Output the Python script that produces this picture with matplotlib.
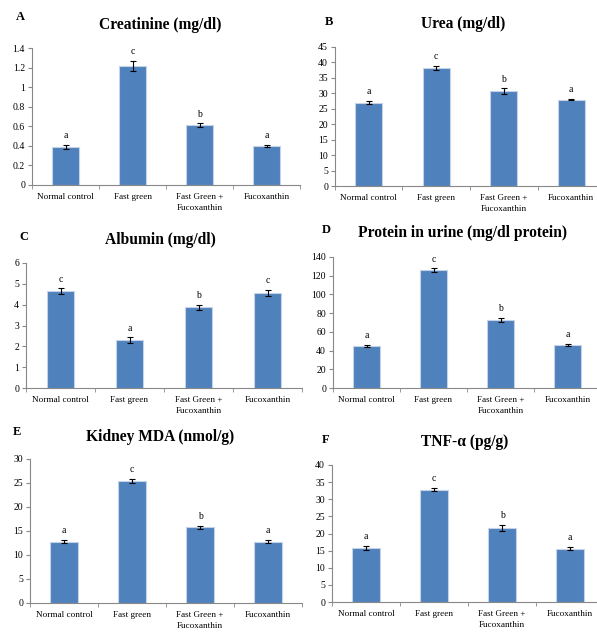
import matplotlib
matplotlib.use('Agg')

import numpy as np
import matplotlib.pyplot as plt

plt.rcParams['font.family'] = ['Liberation Serif', 'DejaVu Serif']

groups = ['Normal control', 'Fast green', 'Fast Green +\nFucoxanthin', 'Fucoxanthin']

creatinine = [0.39, 1.22, 0.61, 0.40]
creatinine_err = [0.02, 0.05, 0.02, 0.01]
urea = [27.0, 38.2, 30.7, 27.9]
urea_err = [0.4, 0.8, 0.9, 0.2]
albumin = [4.65, 2.30, 3.88, 4.57]
albumin_err = [0.15, 0.15, 0.12, 0.15]
protein = [45, 126, 73, 46]
protein_err = [1, 2, 2, 1]
mda = [12.8, 25.5, 15.8, 12.8]
mda_err = [0.3, 0.4, 0.3, 0.4]
tnf = [15.8, 32.8, 21.6, 15.6]
tnf_err = [0.5, 0.5, 0.9, 0.5]

letters_a = ['a', 'c', 'b', 'a']
letters_c = ['c', 'a', 'b', 'c']

W, H = 597, 633
fig = plt.figure(figsize=(W / 100, H / 100), dpi=100)

# (label, title, values, errors, letters, ymax, ystep, left, right, top, bottom, title xy, label xy)
panels = [
    ('A', 'Creatinine (mg/dl)', creatinine, creatinine_err, letters_a, 1.4, 0.2,
     32, 300, 48, 185, (160, 25), (20, 17)),
    ('B', 'Urea (mg/dl)', urea, urea_err, letters_a, 45, 5,
     335, 605, 47, 186, (463, 24), (329, 22)),
    ('C', 'Albumin (mg/dl)', albumin, albumin_err, letters_c, 6, 1,
     26, 302, 263, 388, (160, 240), (24, 237)),
    ('D', 'Protein in urine (mg/dl protein)', protein, protein_err, letters_a, 140, 20,
     333, 601, 257, 388, (462, 233), (326, 230)),
    ('E', 'Kidney MDA (nmol/g)', mda, mda_err, letters_a, 30, 5,
     30, 302, 459, 603, (160, 437), (17, 432)),
    ('F', 'TNF-α (pg/g)', tnf, tnf_err, letters_a, 40, 5,
     332, 604, 465, 602, (465, 442), (326, 440)),
]

x = np.arange(len(groups))
for lab, title, vals, errs, lets, ymax, ystep, l, r, t, b, txy, lxy in panels:
    ax = fig.add_axes([l / W, (H - b) / H, (r - l) / W, (b - t) / H])
    ax.bar(x, vals, width=0.4, color='#4F81BD', edgecolor='#c6d3e6', linewidth=0.8,
           yerr=errs, error_kw=dict(ecolor='black', elinewidth=0.8, capsize=2, capthick=0.8))
    for xi, v, e, s in zip(x, vals, errs, lets):
        ax.text(xi, v + e + ymax * 0.035, s, ha='center', va='bottom', fontsize=7)
    ax.set_xlim(-0.5, 3.5)
    ax.set_ylim(0, ymax)
    ax.set_yticks(np.arange(0, ymax + ystep / 2, ystep))
    ax.set_yticklabels(['%g' % v for v in np.arange(0, ymax + ystep / 2, ystep)])
    ax.set_xticks(x)
    ax.set_xticklabels(groups, fontsize=6.6, linespacing=1.45)
    ax.set_xticks(np.arange(-0.5, 4, 1), minor=True)
    ax.tick_params(axis='x', which='major', length=0, pad=6)
    ax.tick_params(axis='x', which='minor', length=3, color='#888888', direction='out')
    ax.tick_params(axis='y', labelsize=7, length=3, color='#888888', pad=2)
    for s in ['top', 'right']:
        ax.spines[s].set_visible(False)
    for s in ['left', 'bottom']:
        ax.spines[s].set_color('#888888')
        ax.spines[s].set_linewidth(0.8)
    fig.text(txy[0] / W, 1 - txy[1] / H, title, ha='center', va='center',
             fontsize=11.2, fontweight='bold')
    fig.text(lxy[0] / W, 1 - lxy[1] / H, lab, ha='center', va='center',
             fontsize=9, fontweight='bold')

fig.savefig('out.png', dpi=100)
